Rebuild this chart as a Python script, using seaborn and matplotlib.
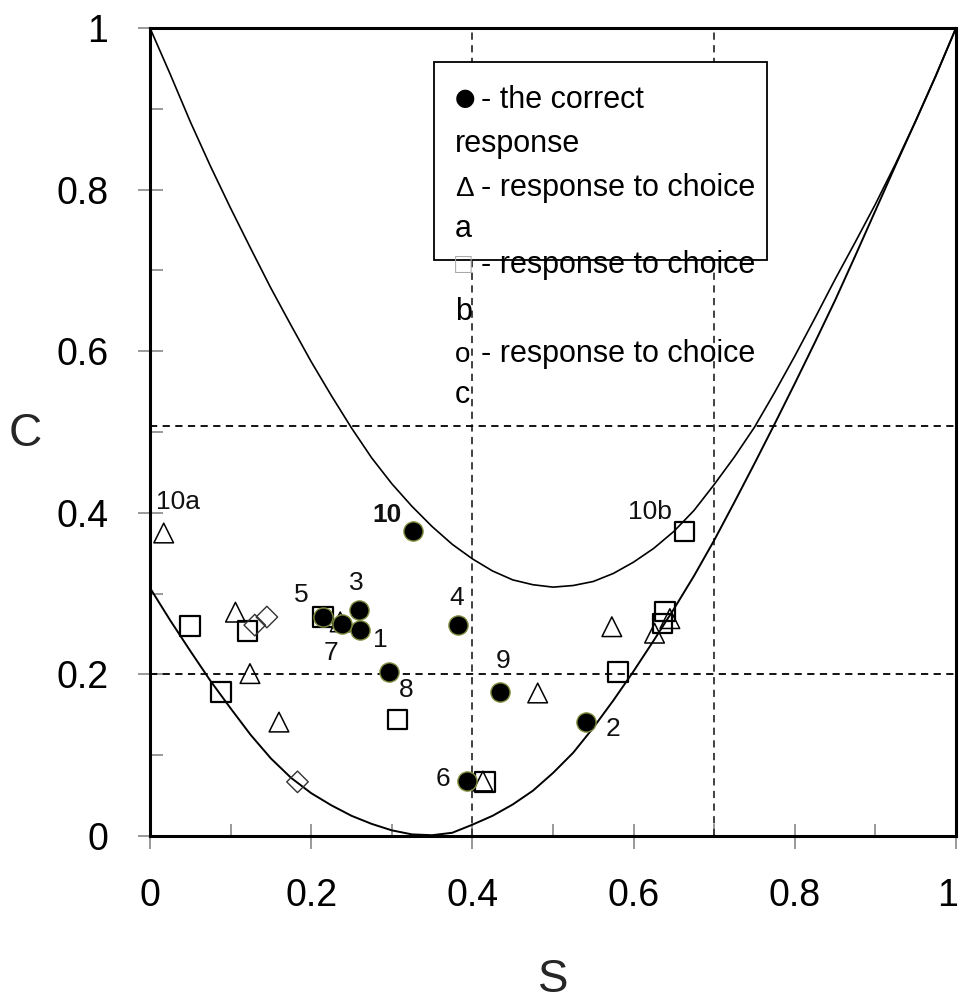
import matplotlib
matplotlib.use("Agg")
import matplotlib.pyplot as plt
import matplotlib.patches as mpatches
from matplotlib.ticker import MultipleLocator
from matplotlib.transforms import ScaledTranslation
import seaborn as sns

# boundary curves
S_GRID = [0.000, 0.025, 0.050, 0.075, 0.100, 0.125, 0.150, 0.175, 0.200, 0.225,
          0.250, 0.275, 0.300, 0.325, 0.350, 0.375, 0.400, 0.425, 0.450, 0.475,
          0.500, 0.525, 0.550, 0.575, 0.600, 0.625, 0.650, 0.675, 0.700, 0.725,
          0.750, 0.775, 0.800, 0.825, 0.850, 0.875, 0.900, 0.925, 0.950, 0.975, 1.000]
UPPER_C = [1.000, 0.943, 0.884, 0.829, 0.777, 0.727, 0.678, 0.632, 0.587, 0.545,
           0.505, 0.468, 0.436, 0.408, 0.383, 0.361, 0.343, 0.328, 0.317, 0.311,
           0.308, 0.310, 0.315, 0.325, 0.339, 0.356, 0.377, 0.403, 0.435, 0.469,
           0.506, 0.549, 0.594, 0.641, 0.689, 0.735, 0.782, 0.832, 0.885, 0.941, 1.000]
LOWER_C = [0.307, 0.267, 0.229, 0.192, 0.158, 0.125, 0.096, 0.072, 0.053, 0.038,
           0.025, 0.015, 0.007, 0.002, 0.001, 0.004, 0.014, 0.025, 0.039, 0.056,
           0.078, 0.103, 0.134, 0.168, 0.204, 0.242, 0.281, 0.322, 0.366, 0.413,
           0.461, 0.510, 0.560, 0.611, 0.663, 0.718, 0.774, 0.830, 0.885, 0.941, 1.000]

# correct responses (filled circles), numbered 1..10
CORRECT_S = [0.261, 0.541, 0.259, 0.382, 0.215, 0.393, 0.238, 0.297, 0.434, 0.326]
CORRECT_C = [0.255, 0.141, 0.280, 0.261, 0.271, 0.068, 0.262, 0.203, 0.178, 0.377]

# responses to choice a (triangles), b (squares), c (diamonds)
CHOICE_A_S = [0.017, 0.106, 0.124, 0.160, 0.236, 0.413, 0.481, 0.573, 0.626, 0.645]
CHOICE_A_C = [0.375, 0.277, 0.201, 0.141, 0.265, 0.068, 0.177, 0.259, 0.251, 0.269]
CHOICE_B_S = [0.050, 0.121, 0.088, 0.215, 0.307, 0.416, 0.581, 0.636, 0.639, 0.663]
CHOICE_B_C = [0.260, 0.254, 0.178, 0.271, 0.144, 0.067, 0.203, 0.263, 0.278, 0.377]
CHOICE_C_S = [0.130, 0.145, 0.183]
CHOICE_C_C = [0.261, 0.271, 0.067]

GUIDE_S = [0.4, 0.7]
GUIDE_C = [0.2, 0.507]

POINT_LABELS = ["10a", "10", "5", "3", "1", "7", "8", "4", "6", "9", "2", "10b"]
LABEL_POS = [(0.035, 0.413), (0.294, 0.397), (0.188, 0.298), (0.256, 0.313),
             (0.286, 0.243), (0.225, 0.226), (0.318, 0.181), (0.381, 0.294),
             (0.364, 0.070), (0.438, 0.216), (0.575, 0.133), (0.620, 0.401)]

TICKS = [0, 0.2, 0.4, 0.6, 0.8, 1]
TICK_LABELS = ["0", "0.2", "0.4", "0.6", "0.8", "1"]

sns.set_theme(style="white")
plt.rcParams["font.family"] = ["Liberation Sans", "DejaVu Sans"]

fig, ax = plt.subplots(figsize=(9.64, 10.01), dpi=100)
fig.subplots_adjust(left=150 / 964, right=956 / 964, bottom=1 - 836 / 1001, top=1 - 28 / 1001)

for s in GUIDE_S:
    ax.axvline(s, color="#333333", lw=1.3, dashes=(4, 3), zorder=1)
for c in GUIDE_C:
    ax.axhline(c, color="black", lw=1.3, dashes=(4, 3), zorder=1)

sns.lineplot(x=S_GRID, y=UPPER_C, color="black", linewidth=1.2, estimator=None, sort=False, ax=ax, zorder=2)
sns.lineplot(x=S_GRID, y=LOWER_C, color="black", linewidth=1.4, estimator=None, sort=False, ax=ax, zorder=2)

sns.scatterplot(x=CHOICE_A_S, y=CHOICE_A_C, marker="^", s=200, facecolor="none",
                edgecolor="black", linewidth=1.1, ax=ax, zorder=5)
sns.scatterplot(x=CHOICE_B_S, y=CHOICE_B_C, marker="s", s=200, facecolor="none",
                edgecolor="black", linewidth=1.6, ax=ax, zorder=5)
sns.scatterplot(x=CHOICE_C_S, y=CHOICE_C_C, marker="D", s=120, facecolor="none",
                edgecolor="#333333", linewidth=1.0, ax=ax, zorder=5)
sns.scatterplot(x=CORRECT_S, y=CORRECT_C, marker="o", s=190, color="black",
                edgecolor="#7a8a3a", linewidth=1.0, ax=ax, zorder=6)

for text, (x, y) in zip(POINT_LABELS, LABEL_POS):
    ax.text(x, y, text, fontsize=19, ha="center", va="center",
            color="#111111", fontweight="bold" if text == "10" else "normal", zorder=7)

# legend drawn as a framed text block, like the original
ax.add_patch(mpatches.Rectangle((0.352, 0.713), 0.414, 0.245, transform=ax.transAxes,
                                facecolor="white", edgecolor="black", lw=1.3, zorder=3))
legend_rows = [
    ("\u25cf", "black", "- the correct", 0.901),
    ("", "black", "response", 0.8465),
    ("\u0394", "black", "- response to choice", 0.792),
    ("", "black", "a", 0.741),
    ("\u25a1", "#aaaaaa", "- response to choice", 0.697),
    ("", "black", "b", 0.639),
    ("o", "black", "- response to choice", 0.587),
    ("", "black", "c", 0.536),
]
for sym, sym_color, txt, y in legend_rows:
    if sym == "\u25cf":
        ax.text(0.378, y + 0.004, sym, fontsize=17, color=sym_color, ha="left",
                va="baseline", zorder=4, family=["DejaVu Sans"])
        ax.text(0.4107, y, txt, fontsize=22, ha="left", va="baseline", color="black", zorder=4)
    elif sym:
        ax.text(0.378, y, sym, fontsize=20, color=sym_color, ha="left", va="baseline",
                zorder=4, family=["Liberation Sans", "DejaVu Sans"])
        ax.text(0.4107, y, txt, fontsize=22, ha="left", va="baseline", color="black", zorder=4)
    else:
        ax.text(0.378, y, txt, fontsize=22, ha="left", va="baseline", color="black", zorder=4)

ax.set_xlim(0, 1)
ax.set_ylim(0, 1)
ax.set_xticks(TICKS)
ax.set_xticklabels(TICK_LABELS)
ax.set_yticks(TICKS)
ax.set_yticklabels(TICK_LABELS)
ax.xaxis.set_minor_locator(MultipleLocator(0.1))
ax.yaxis.set_minor_locator(MultipleLocator(0.1))
ax.tick_params(which="major", direction="inout", length=18, width=1.2, color="#888888",
               labelsize=27, pad=21, labelcolor="black",
               bottom=True, left=True, top=False, right=False)
ax.tick_params(which="minor", direction="in", length=9, width=1.2, color="#888888",
               bottom=True, left=True, top=False, right=False)

# keep the last x tick label inside the canvas
last = ax.get_xticklabels()[-1]
last.set_transform(last.get_transform() + ScaledTranslation(-6 / 72, 0, fig.dpi_scale_trans))

for sp in ax.spines.values():
    sp.set_visible(True)
    sp.set_color("black")
    sp.set_linewidth(2.2)

ax.set_xlabel("S", fontsize=33)
ax.set_ylabel("C", fontsize=33, rotation=0)
ax.xaxis.set_label_coords(0.5, -0.178)
ax.yaxis.set_label_coords(-0.155, 0.4975)
ax.xaxis.label.set_va("center")
ax.yaxis.label.set_va("center")
ax.yaxis.label.set_ha("center")

fig.savefig("out.png", dpi=100, facecolor="white")
plt.close(fig)
